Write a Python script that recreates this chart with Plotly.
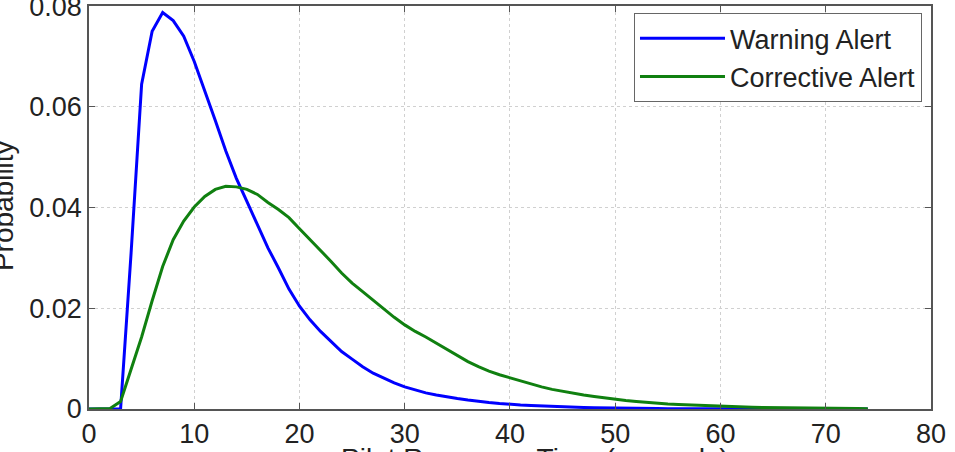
import plotly.graph_objects as go

time_s = list(range(0, 75))

warning_alert = [
    0, 0, 0, 0, 0.031, 0.0645, 0.075, 0.0787, 0.0771, 0.074,
    0.069, 0.0633, 0.0573, 0.0512, 0.0458, 0.0412, 0.0365, 0.032, 0.028, 0.0238,
    0.0204, 0.0177, 0.0154, 0.0134, 0.0114, 0.0099, 0.0084, 0.0071, 0.0061, 0.0052,
    0.0044, 0.0038, 0.0032, 0.0028, 0.0024, 0.0021, 0.0018, 0.0015, 0.0013, 0.0011,
    0.0009, 0.0008, 0.0007, 0.0006, 0.0005, 0.0004, 0.00035, 0.0003, 0.00025, 0.0002,
    0.00017, 0.00014, 0.00012, 0.0001, 0.00008, 0.00007, 0.00006, 0.00005, 0.00004, 0.00003,
    0.00003, 0.00002, 0.00002, 0.00002, 0.00001, 0.00001, 0.00001, 0.00001, 0.00001, 0.00001,
    0, 0, 0, 0, 0,
]

corrective_alert = [
    0, 0, 0.0001, 0.0015, 0.0078, 0.0143, 0.0215, 0.0283, 0.0336, 0.0373,
    0.0401, 0.0422, 0.0436, 0.0442, 0.0441, 0.0436, 0.0426, 0.041, 0.0396, 0.038,
    0.0358, 0.0337, 0.0316, 0.0293, 0.027, 0.025, 0.0233, 0.0216, 0.0198, 0.0182,
    0.0167, 0.0154, 0.0143, 0.0131, 0.0118, 0.0106, 0.0094, 0.0084, 0.0075, 0.0068,
    0.0062, 0.0055, 0.0049, 0.0044, 0.0039, 0.0035, 0.0031, 0.0028, 0.0025, 0.0022,
    0.0019, 0.0017, 0.0015, 0.0013, 0.0011, 0.001, 0.0009, 0.0008, 0.0007, 0.0006,
    0.0005, 0.00045, 0.0004, 0.00035, 0.0003, 0.00026, 0.00022, 0.0002, 0.00017, 0.00015,
    0.00013, 0.00011, 0.0001, 0.00008, 0.00007,
]

x_ticks = [0, 10, 20, 30, 40, 50, 60, 70, 80]
y_ticks = [0, 0.02, 0.04, 0.06, 0.08]
y_tick_labels = ["0", "0.02", "0.04", "0.06", "0.08"]

FONT = "Liberation Sans, Arial, Helvetica, sans-serif"

fig = go.Figure()
fig.add_trace(go.Scatter(x=time_s, y=warning_alert, mode="lines", name="Warning Alert",
                         line=dict(color="#0000ff", width=3)))
fig.add_trace(go.Scatter(x=time_s, y=corrective_alert, mode="lines", name="Corrective Alert",
                         line=dict(color="#108010", width=3)))

axis_common = dict(
    showline=True, linecolor="#555555", linewidth=1.5, mirror="ticks",
    ticks="inside", ticklen=6, tickcolor="#555555", tickwidth=1.2,
    showgrid=True, gridcolor="#d0d0d0", griddash="dot", gridwidth=1,
    zeroline=False, tickfont=dict(family=FONT, size=27, color="#222222"),
    ticklabeloverflow="allow", automargin=False,
)

fig.update_xaxes(range=[0, 80.001], tickvals=x_ticks, **axis_common)
fig.update_yaxes(range=[0, 0.08001], tickvals=y_ticks, ticktext=y_tick_labels, **axis_common)

fig.update_layout(
    width=955, height=452,
    margin=dict(l=89, r=24, t=6, b=43, autoexpand=False),
    paper_bgcolor="white", plot_bgcolor="white",
    showlegend=True,
    legend=dict(x=0.9893, y=0.982, xanchor="right", yanchor="top",
                bgcolor="white", bordercolor="#666666", borderwidth=1,
                font=dict(family=FONT, size=27, color="#222222"),
                itemwidth=85, tracegroupgap=0),
    annotations=[
        dict(text="Pilot Response Time (seconds)", xref="paper", yref="paper",
             x=0.53, y=-0.079, xanchor="center", yanchor="top", showarrow=False,
             font=dict(family=FONT, size=28, color="#222222")),
        dict(text="Probability", xref="paper", yref="paper", textangle=-90,
             x=-0.1014, y=0.505, xanchor="center", yanchor="middle", showarrow=False,
             font=dict(family=FONT, size=28, color="#222222")),
    ],
)

fig.write_html("out.html")
